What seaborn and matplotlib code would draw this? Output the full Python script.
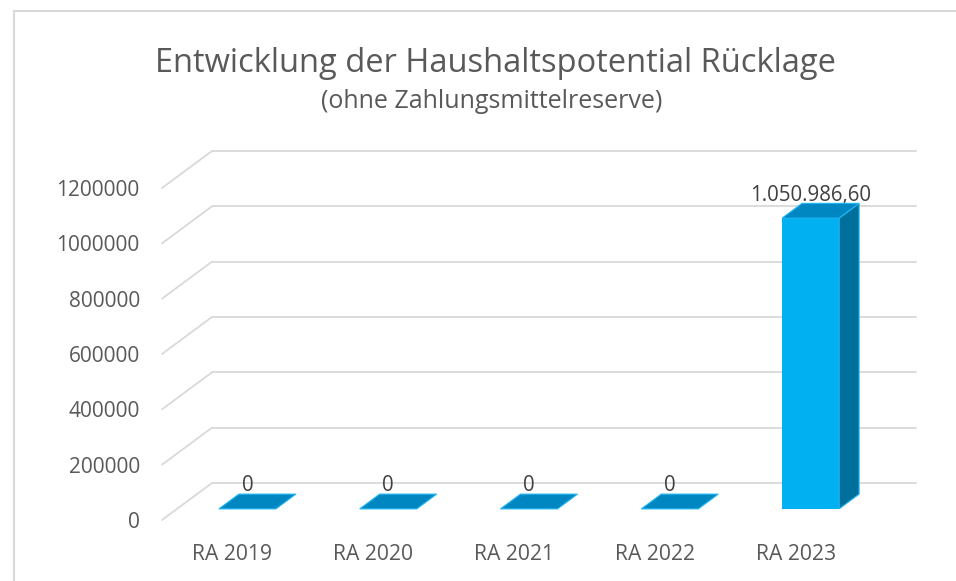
import matplotlib
matplotlib.use("Agg")
import matplotlib.pyplot as plt
import matplotlib.patches as mpatches
import pandas as pd
import seaborn as sns

# Daten
categories = ["RA 2019", "RA 2020", "RA 2021", "RA 2022", "RA 2023"]
values = [0, 0, 0, 0, 1050986.60]
value_labels = ["0", "0", "0", "0", "1.050.986,60"]
y_ticks = [0, 200000, 400000, 600000, 800000, 1000000, 1200000]

title = "Entwicklung der Haushaltspotential Rücklage"
subtitle = "(ohne Zahlungsmittelreserve)"

# 3D-Tiefe (in Datenkoordinaten)
dx = 0.355
dy = 133700
f0, f1 = 0.3, 0.7

sns.set_theme(style="white")
plt.rcParams["font.family"] = ["Open Sans", "DejaVu Sans"]

fig = plt.figure(figsize=(9.56, 5.81), dpi=100)
ax = fig.add_axes([162 / 956, 61 / 581, 704 / 956, 332 / 581])

df = pd.DataFrame({"jahr": categories, "wert": values})
sns.barplot(data=df, x="jahr", y="wert", width=0.405, color="#00B0F0",
            saturation=1, ax=ax, zorder=3)
ax.set_xlim(-0.5, len(categories) - 0.5)
ax.set_ylim(0, y_ticks[-1])

# Gitterlinien: Rückwand + Diagonale links
for v in y_ticks:
    ax.plot([-0.5 + dx, len(categories) - 0.5 + dx], [v + dy, v + dy],
            color="#D9D9D9", lw=1.3, clip_on=False, zorder=1)
    ax.plot([-0.5, -0.5 + dx], [v, v + dy],
            color="#D9D9D9", lw=1.3, clip_on=False, zorder=1)

# Balken nach hinten verschieben und Ober-/Seitenflächen ergänzen
ddx = (f1 - f0) * dx
ddy = (f1 - f0) * dy
for p, lab in zip(ax.patches, value_labels):
    p.set_x(p.get_x() + f0 * dx)
    p.set_y(p.get_y() + f0 * dy)
    p.set_linewidth(0)
    p.set_clip_on(False)
    x0, w = p.get_x(), p.get_width()
    y0, top = p.get_y(), p.get_y() + p.get_height()
    if p.get_height() > 0:
        side = mpatches.Polygon([(x0 + w, y0), (x0 + w, top), (x0 + w + ddx, top + ddy),
                                 (x0 + w + ddx, y0 + ddy)],
                                closed=True, facecolor="#006F9C", edgecolor="#1FB8F5",
                                lw=0.8, clip_on=False, zorder=3)
        ax.add_patch(side)
    roof = mpatches.Polygon([(x0, top), (x0 + w, top), (x0 + w + ddx, top + ddy),
                             (x0 + ddx, top + ddy)],
                            closed=True, facecolor="#0086C0", edgecolor="#1FB8F5",
                            lw=0.8, clip_on=False, zorder=4)
    ax.add_patch(roof)
    ax.annotate(lab, (x0 + w / 2, top + ddy), xytext=(0, 2), textcoords="offset points",
                ha="center", va="baseline", fontsize=14.8, color="#404040",
                annotation_clip=False)

sns.despine(ax=ax, left=True, bottom=True)
ax.set_xlabel("")
ax.set_ylabel("")
ax.set_yticks(y_ticks)
ax.set_yticklabels([str(t) for t in y_ticks])
ax.tick_params(axis="y", length=0, pad=16, labelsize=15, labelcolor="#595959")
ax.tick_params(axis="x", length=0, pad=17, labelsize=15.2, labelcolor="#595959")

fig.text(495 / 956, 1 - 63 / 581, title, ha="center", va="center",
         fontsize=23.5, color="#595959")
fig.text(492 / 956, 1 - 101 / 581, subtitle, ha="center", va="center",
         fontsize=18, color="#595959")

# Rahmen
fig.patches.append(mpatches.Rectangle((13.5 / 956, -0.1), 1.2, 1 - 10.5 / 581 + 0.1,
                                      transform=fig.transFigure, fill=False,
                                      edgecolor="#D9D9D9", lw=1.5))

fig.savefig("out.png", dpi=100)
